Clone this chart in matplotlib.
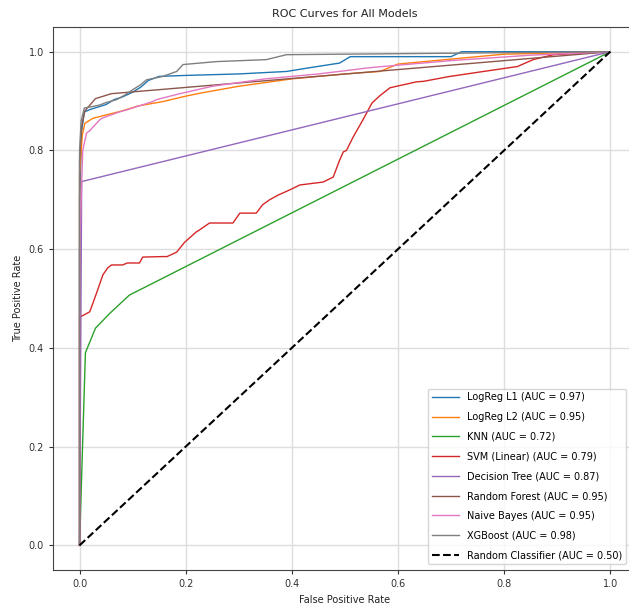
import numpy as np
import matplotlib
matplotlib.use("Agg")
from matplotlib import pyplot as plt

# ROC points
l1_fpr = [0, 0, 0.004, 0.009, 0.02, 0.035, 0.05, 0.065, 0.08, 0.1, 0.115, 0.13, 0.15, 0.2, 0.3, 0.39, 0.43, 0.49, 0.51, 0.7, 0.72, 1.0]
l1_tpr = [0, 0.7, 0.84, 0.878, 0.883, 0.888, 0.893, 0.903, 0.908, 0.918, 0.928, 0.942, 0.95, 0.952, 0.955, 0.96, 0.967, 0.977, 0.99, 0.99, 1.0, 1.0]

l2_fpr = [0, 0, 0.005, 0.01, 0.025, 0.05, 0.08, 0.11, 0.157, 0.2, 0.232, 0.3, 0.4, 0.5, 0.566, 0.6, 0.73, 0.8, 1.0]
l2_tpr = [0, 0.75, 0.83, 0.855, 0.865, 0.872, 0.88, 0.89, 0.899, 0.91, 0.917, 0.93, 0.945, 0.955, 0.96, 0.975, 0.988, 0.995, 1.0]

knn_fpr = [0, 0.011, 0.03, 0.057, 0.094, 1.0]
knn_tpr = [0, 0.39, 0.44, 0.47, 0.507, 1.0]

svm_fpr = [0, 0, 0.019, 0.025, 0.032, 0.044, 0.053, 0.06, 0.081, 0.09, 0.113, 0.119, 0.157, 0.165, 0.183, 0.198,
           0.22, 0.226, 0.245, 0.289, 0.302, 0.333, 0.345, 0.358, 0.375, 0.396, 0.415, 0.459, 0.478, 0.49, 0.497,
           0.503, 0.516, 0.534, 0.551, 0.565, 0.585, 0.635, 0.648, 0.698, 0.711, 0.761, 0.774, 0.825, 0.855, 0.893, 1.0]
svm_tpr = [0, 0.462, 0.473, 0.49, 0.511, 0.548, 0.562, 0.568, 0.568, 0.572, 0.572, 0.584, 0.585, 0.585, 0.594, 0.614,
           0.635, 0.639, 0.653, 0.653, 0.673, 0.673, 0.69, 0.70, 0.71, 0.72, 0.73, 0.736, 0.746, 0.78, 0.797,
           0.80, 0.828, 0.862, 0.896, 0.91, 0.927, 0.939, 0.94, 0.95, 0.952, 0.96, 0.962, 0.97, 0.984, 0.994, 1.0]

dt_fpr = [0, 0.004, 1.0]
dt_tpr = [0, 0.737, 1.0]

rf_fpr = [0, 0, 0.004, 0.01, 0.03, 0.06, 1.0]
rf_tpr = [0, 0.78, 0.85, 0.88, 0.905, 0.915, 1.0]

nb_fpr = [0, 0, 0.006, 0.013, 0.019, 0.038, 0.044, 0.075, 0.088, 0.138, 0.145, 0.189, 0.25, 0.35, 0.45, 0.55, 0.7, 0.85, 1.0]
nb_tpr = [0, 0.6, 0.80, 0.835, 0.84, 0.862, 0.866, 0.878, 0.882, 0.899, 0.903, 0.915, 0.93, 0.945, 0.955, 0.968, 0.982, 0.993, 1.0]

xgb_fpr = [0, 0, 0.003, 0.009, 0.02, 0.038, 0.05, 0.07, 0.085, 0.1, 0.115, 0.126, 0.157, 0.183, 0.195, 0.258, 0.352, 0.39, 0.6, 1.0]
xgb_tpr = [0, 0.8, 0.86, 0.886, 0.888, 0.892, 0.897, 0.903, 0.912, 0.923, 0.933, 0.943, 0.95, 0.96, 0.974, 0.98, 0.984, 0.994, 0.996, 1.0]

names = ["LogReg L1", "LogReg L2", "KNN", "SVM (Linear)", "Decision Tree",
         "Random Forest", "Naive Bayes", "XGBoost"]
aucs = [0.97, 0.95, 0.72, 0.79, 0.87, 0.95, 0.95, 0.98]
curves = [(l1_fpr, l1_tpr), (l2_fpr, l2_tpr), (knn_fpr, knn_tpr), (svm_fpr, svm_tpr),
          (dt_fpr, dt_tpr), (rf_fpr, rf_tpr), (nb_fpr, nb_tpr), (xgb_fpr, xgb_tpr)]
colors = ["tab:blue", "tab:orange", "tab:green", "tab:red", "tab:purple",
          "tab:brown", "tab:pink", "tab:gray"]

fig = plt.figure(figsize=(6.29, 6.09), dpi=100)
ax = fig.add_axes([0.0843, 0.064, 0.928, 0.8916])

for (f, t), name, auc, c in zip(curves, names, aucs, colors):
    ax.plot(f, t, color=c, lw=1.0, label=f"{name} (AUC = {auc:.2f})")
ax.plot([0, 1], [0, 1], "k--", lw=1.5, label="Random Classifier (AUC = 0.50)")

ax.set_xlim(-0.05, 1.05)
ax.set_ylim(-0.05, 1.05)
ax.set_xticks([0, 0.2, 0.4, 0.6, 0.8, 1.0])
ax.set_yticks([0, 0.2, 0.4, 0.6, 0.8, 1.0])
ax.tick_params(labelsize=7, length=3, colors="#333333")
ax.grid(True, color="#dddddd", lw=1.0)
for s in ax.spines.values():
    s.set_color("#444444")
ax.set_title("ROC Curves for All Models", fontsize=8, color="#222222", pad=7)
ax.set_xlabel("False Positive Rate", fontsize=7, color="#222222")
ax.set_ylabel("True Positive Rate", fontsize=7, color="#222222")
ax.legend(loc="lower right", fontsize=7, labelspacing=1.0, handlelength=2.8,
          bbox_to_anchor=(0.99, 0.002))

fig.savefig("out.png", dpi=100)
